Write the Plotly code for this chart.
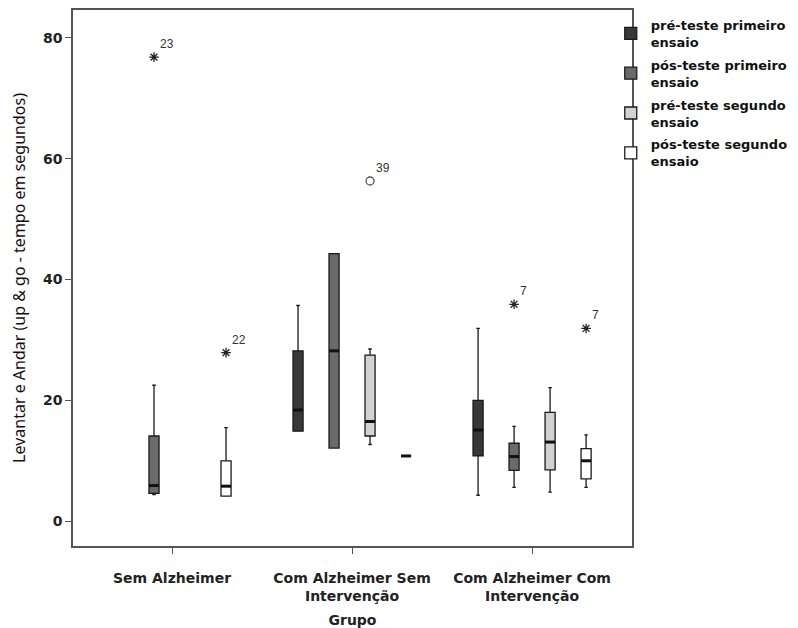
import plotly.graph_objects as go

groups = ["Sem Alzheimer", "Com Alzheimer Sem<br>Intervenção", "Com Alzheimer Com<br>Intervenção"]
series_names = ["pré-teste primeiro<br>ensaio", "pós-teste primeiro<br>ensaio",
                "pré-teste segundo<br>ensaio", "pós-teste segundo<br>ensaio"]
series_colors = ["#383838", "#6a6a6a", "#d2d2d2", "#ffffff"]

# [min, q1, median, q3, max] per group; None when the group has no box
pre1 = [None, [14.9, 14.9, 18.4, 28.2, 35.7], [4.3, 10.8, 15.1, 20.0, 31.9]]
post1 = [[4.4, 4.6, 5.9, 14.1, 22.5], [12.1, 12.1, 28.2, 44.3, 44.3], [5.6, 8.4, 10.7, 12.9, 15.7]]
pre2 = [None, [12.7, 14.1, 16.5, 27.5, 28.5], [4.8, 8.5, 13.1, 18.0, 22.1]]
post2 = [[4.15, 4.15, 5.8, 10.0, 15.5], [10.8, 10.8, 10.8, 10.8, 10.8], [5.6, 7.0, 10.0, 12.0, 14.3]]
all_stats = [pre1, post1, pre2, post2]

# outliers / extremes
out_series = [1, 3, 2, 1, 3]
out_group = [0, 0, 1, 2, 2]
out_value = [76.8, 27.9, 56.3, 35.9, 31.9]
out_label = ["23", "22", "39", "7", "7"]
out_kind = ["extreme", "extreme", "outlier", "extreme", "extreme"]

y_ticks = [0, 20, 40, 60, 80]

slot = 0.2
box_w = 0.056

def pos(s, g):
    return g + (s - 1.5) * slot

FONT = "DejaVu Sans"
fig = go.Figure()

for s, stats in enumerate(all_stats):
    first = True
    for g, st in enumerate(stats):
        if st is None:
            continue
        fig.add_trace(go.Box(
            x=[pos(s, g)], lowerfence=[st[0]], q1=[st[1]], median=[st[2]],
            q3=[st[3]], upperfence=[st[4]], width=box_w,
            fillcolor=series_colors[s], line=dict(color="#1a1a1a", width=1.3),
            whiskerwidth=0.35, boxpoints=False, name=series_names[s],
            legendgroup=str(s), showlegend=first, hoverinfo="skip"))
        first = False
    # thick median lines
    mx, my = [], []
    for g, st in enumerate(stats):
        if st is None:
            continue
        p = pos(s, g)
        mx += [p - box_w / 2, p + box_w / 2, None]
        my += [st[2], st[2], None]
    fig.add_trace(go.Scatter(x=mx, y=my, mode="lines", line=dict(color="#111", width=3),
                             showlegend=False, hoverinfo="skip"))

for k in range(len(out_value)):
    sym = "asterisk-open" if out_kind[k] == "extreme" else "circle-open"
    col = "#222" if out_kind[k] == "extreme" else "#555"
    fig.add_trace(go.Scatter(
        x=[pos(out_series[k], out_group[k])], y=[out_value[k]], mode="markers+text",
        marker=dict(symbol=sym, size=8, line=dict(color=col, width=1.3), color=col),
        text=[out_label[k]], textposition="top right",
        textfont=dict(family="Liberation Sans", size=12, color="#333"),
        showlegend=False, hoverinfo="skip"))

# page body has an 8px margin, so the figure is drawn 8px right/down
fig.update_layout(
    width=790, height=620,
    margin=dict(l=65, r=166, t=0, b=79),
    plot_bgcolor="white", paper_bgcolor="white",
    boxmode="overlay",
    font=dict(family=FONT, color="#222"),
    legend=dict(x=0.962, xanchor="left", y=1.0, yanchor="top",
                bgcolor="rgba(0,0,0,0)", tracegroupgap=3,
                font=dict(family=FONT, size=13, weight="bold", color="#111")),
    xaxis=dict(range=[-0.55, 2.555], tickvals=[0, 1, 2], ticktext=groups,
               showline=True, mirror=True, linecolor="#555", linewidth=1.5,
               ticks="outside", ticklen=6, tickcolor="#555", showgrid=False, zeroline=False,
               ticklabelstandoff=12,
               tickfont=dict(family=FONT, size=14, weight="bold", color="#222"),
               title=dict(text="Grupo", standoff=14,
                          font=dict(family=FONT, size=14, weight="bold", color="#222"))),
    yaxis=dict(range=[-4.1, 84.6], tickvals=y_ticks,
               showline=True, mirror=True, linecolor="#555", linewidth=1.5,
               ticks="outside", ticklen=6, tickcolor="#555", showgrid=False, zeroline=False,
               tickfont=dict(family=FONT, size=14, weight="bold", color="#222"),
               title=dict(text="Levantar e Andar (up &amp; go - tempo em segundos)", standoff=13,
                          font=dict(family="Noto Sans", size=16, color="#111"))),
)

fig.write_html("out.html")
